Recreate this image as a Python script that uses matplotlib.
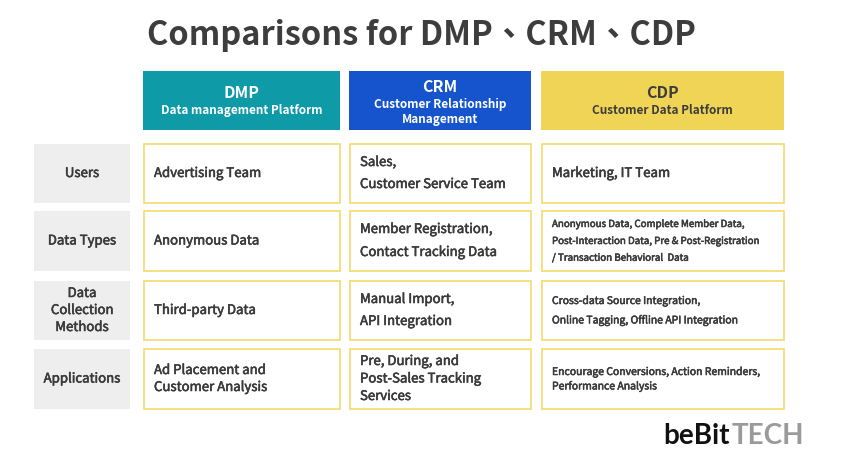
import matplotlib
matplotlib.use("Agg")
import matplotlib.pyplot as plt
import matplotlib.patheffects as pe
from matplotlib.patches import Rectangle

plt.rcParams['font.family'] = ['Noto Sans CJK TC', 'DejaVu Sans']

title = "Comparisons for DMP、CRM、CDP"
platforms = ["DMP", "CRM", "CDP"]
platform_names = [
    ["Data management Platform"],
    ["Customer Relationship", "Management"],
    ["Customer Data Platform"],
]
row_labels = [
    ["Users"],
    ["Data Types"],
    ["Data", "Collection", "Methods"],
    ["Applications"],
]
cells = [
    [["Advertising Team"], ["Sales,", "Customer Service Team"], ["Marketing, IT Team"]],
    [["Anonymous Data"], ["Member Registration,", "Contact Tracking Data"],
     ["Anonymous Data, Complete Member Data,", "Post-Interaction Data, Pre & Post-Registration",
      "/ Transaction Behavioral  Data"]],
    [["Third-party Data"], ["Manual Import,", "API Integration"],
     ["Cross-data Source Integration,", "Online Tagging, Offline API Integration"]],
    [["Ad Placement and", "Customer Analysis"], ["Pre, During, and", "Post-Sales Tracking", "Services"],
     ["Encourage Conversions, Action Reminders,", "Performance Analysis"]],
]
logo = ["beBit", "TECH"]

# layout (pixels)
W, H = 842, 473
col_x = [(143, 340), (349, 531), (541, 784)]
row_y = [(144, 203), (211, 271), (281, 340), (349, 409)]
label_x = (34, 130)
head_y = (71, 130)
head_colors = ["#0E9AA7", "#1554CD", "#EFD456"]
head_text = ["white", "white", "#3d3d3d"]
line_gap = [[0, 22, 0], [0, 23, 17], [0, 22, 19], [17, 17.5, 14]]
cell_size = [[9.5, 9.5, 9.5], [9.5, 9.5, 7], [9.5, 9.5, 7.5], [9.5, 9.5, 7.5]]
txt = "#3a3a3a"
# regular CJK face looks a touch light next to the original's medium weight
thicken = [pe.withStroke(linewidth=0.4, foreground=txt)]

fig = plt.figure(figsize=(W / 100, H / 100), dpi=100)
ax = fig.add_axes([0, 0, 1, 1])
ax.set_xlim(0, W)
ax.set_ylim(H, 0)
ax.axis("off")


def lines(x, yc, rows, gap, **kw):
    n = len(rows)
    for i, s in enumerate(rows):
        ax.text(x, yc + (i - (n - 1) / 2) * gap, s, va="center", **kw)


ax.text(W / 2, 35, title, ha="center", va="center", fontsize=23.5,
        fontweight="bold", color="#3d3d3d")

# header boxes
for j, (x0, x1) in enumerate(col_x):
    ax.add_patch(Rectangle((x0, head_y[0]), x1 - x0, head_y[1] - head_y[0],
                           facecolor=head_colors[j], edgecolor="none"))
    xc = (x0 + x1) / 2
    sub = platform_names[j]
    top = 93 if len(sub) == 1 else 87
    ax.text(xc, top, platforms[j], ha="center", va="center", fontsize=11.5,
            fontweight="bold", color=head_text[j])
    lines(xc, top + 17 + (len(sub) - 1) * 7.5, sub, 15, ha="center",
          fontsize=8.5, fontweight="bold", color=head_text[j])

# rows
for i, (y0, y1) in enumerate(row_y):
    yc = (y0 + y1) / 2
    ax.add_patch(Rectangle((label_x[0], y0), label_x[1] - label_x[0], y1 - y0,
                           facecolor="#EEEEEE", edgecolor="none"))
    lines((label_x[0] + label_x[1]) / 2, yc, row_labels[i], 17, ha="center",
          fontsize=9.5, color=txt, path_effects=thicken)
    for j, (x0, x1) in enumerate(col_x):
        ax.add_patch(Rectangle((x0 + 1, y0), x1 - x0 - 1, y1 - y0,
                               facecolor="white", edgecolor="#F2DB6E", lw=1.2))
        lines(x0 + 11, yc, cells[i][j], line_gap[i][j], ha="left",
              fontsize=cell_size[i][j], color=txt, path_effects=thicken)

# logo
t = ax.text(663, 436, logo[0], ha="left", va="center", fontsize=20,
            fontweight="bold", color="#111111", family=["Lato"])
fig.canvas.draw()
bb = t.get_window_extent().transformed(ax.transData.inverted())
ax.text(bb.x1 + 2, 436, logo[1], ha="left", va="center", fontsize=20,
        fontweight="bold", color="#9a9a9a", family=["Lato"])

fig.savefig("out.png", dpi=100, facecolor="white")
